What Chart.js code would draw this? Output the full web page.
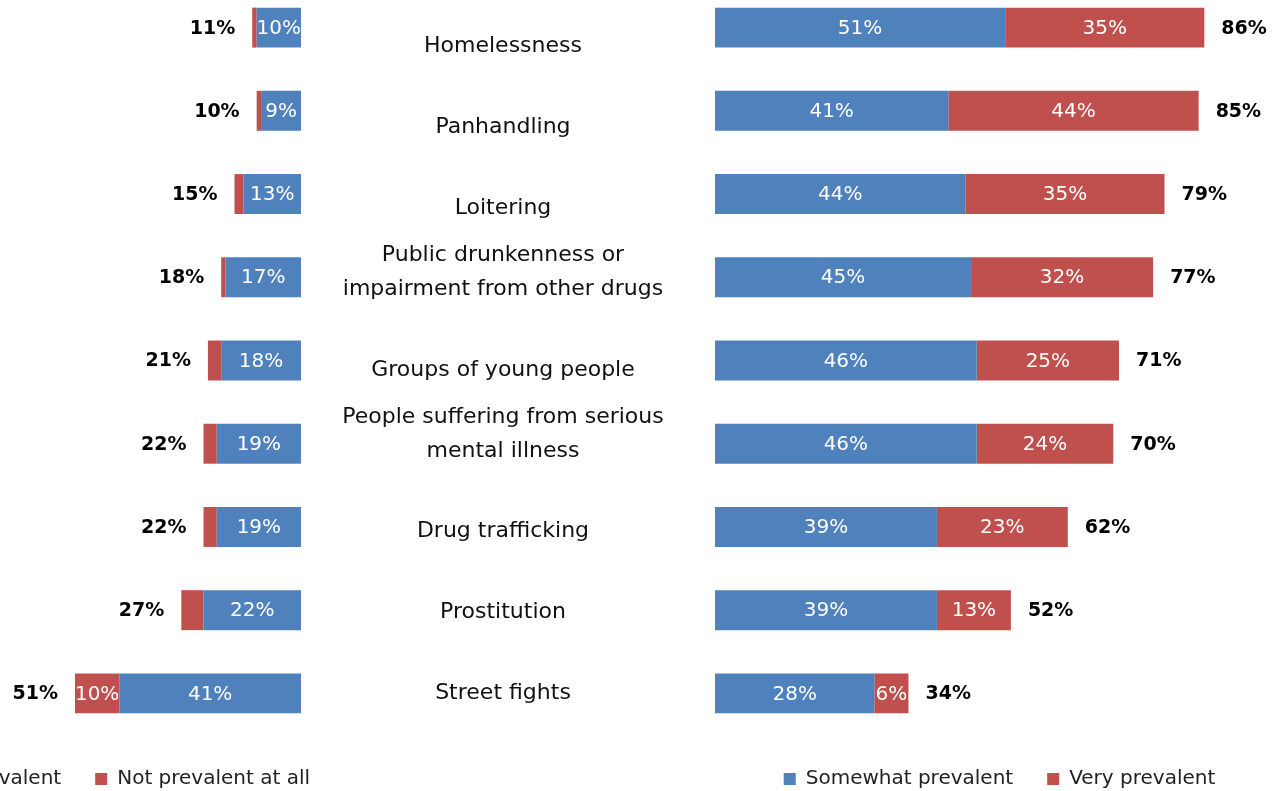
<!DOCTYPE html>
<html>
<head>
<meta charset="utf-8">
<script src="https://cdn.jsdelivr.net/npm/chart.js@4.4.1/dist/chart.umd.min.js"></script>
<style>
  html, body { margin: 0; padding: 0; background: #fff; }
  #wrap { position: relative; width: 1284px; height: 791px; overflow: hidden; }
  #wrap > div { position: absolute; }
</style>
</head>
<body>
<div id="wrap">
  <div style="left:-198px; top:-14px; width:558px; height:813px;"><canvas id="leftChart"></canvas></div>
  <div style="left:320px; top:0; width:366px; height:734px;"><canvas id="midChart"></canvas></div>
  <div style="left:705px; top:-14px; width:579px; height:813px;"><canvas id="rightChart"></canvas></div>
</div>
<script>
const categories = [
    'Homelessness',
    'Panhandling',
    'Loitering',
    ['Public drunkenness or', 'impairment from other drugs'],
    'Groups of young people',
    ['People suffering from serious', 'mental illness'],
    'Drug trafficking',
    'Prostitution',
    'Street fights'
];
const notVeryPrevalent = [10, 9, 13, 17, 18, 19, 19, 22, 41];
const notPrevalentAtAll = [1, 1, 2, 1, 3, 3, 3, 5, 10];
const somewhatPrevalent = [51, 41, 44, 45, 46, 46, 39, 39, 28];
const veryPrevalent = [35, 44, 35, 32, 25, 24, 23, 13, 6];

const BLUE = '#4F81BD';
const RED = '#C0504D';
const FONT = '"DejaVu Sans", sans-serif';

Chart.defaults.font.family = FONT;
Chart.defaults.animation = false;

// white % inside each segment, bold total past the end of the stack
const barLabels = {
    id: 'barLabels',
    afterDatasetsDraw(chart, args, opts) {
        const ctx = chart.ctx;
        const sets = chart.data.datasets;
        ctx.save();
        ctx.textBaseline = 'middle';

        sets.forEach((ds, di) => {
            chart.getDatasetMeta(di).data.forEach((bar, i) => {
                const v = ds.data[i];
                if (v < 6) return;
                ctx.font = '20px ' + FONT;
                ctx.fillStyle = '#fff';
                ctx.textAlign = 'center';
                ctx.fillText(v + '%', (bar.x + bar.base) / 2, bar.y + 1);
            });
        });

        chart.getDatasetMeta(sets.length - 1).data.forEach((bar, i) => {
            const total = sets.reduce((sum, ds) => sum + ds.data[i], 0);
            ctx.font = 'bold 19px ' + FONT;
            ctx.fillStyle = '#000';
            if (opts.side === 'left') {
                ctx.textAlign = 'right';
                ctx.fillText(total + '%', Math.min(bar.x, bar.base) - 17, bar.y + 1);
            } else {
                ctx.textAlign = 'left';
                ctx.fillText(total + '%', Math.max(bar.x, bar.base) + 17, bar.y + 1);
            }
        });
        ctx.restore();
    }
};

// category names in the middle column, last line sits on the slot
const categoryText = {
    id: 'categoryText',
    afterDraw(chart) {
        const ctx = chart.ctx;
        const yScale = chart.scales.y;
        const cx = (chart.chartArea.left + chart.chartArea.right) / 2;
        ctx.save();
        ctx.font = '22px ' + FONT;
        ctx.fillStyle = '#111';
        ctx.textAlign = 'center';
        ctx.textBaseline = 'middle';
        chart.data.labels.forEach((label, i) => {
            const lines = Array.isArray(label) ? label : [label];
            const y = yScale.getPixelForValue(i);
            lines.forEach((line, k) => {
                ctx.fillText(line, cx, y - (lines.length - 1 - k) * 34);
            });
        });
        ctx.restore();
    }
};

function sideChart(id, sets, side, xMin, xMax, padding) {
    return new Chart(document.getElementById(id), {
        type: 'bar',
        data: {
            labels: categories,
            datasets: sets.map(s => ({
                label: s.label,
                data: s.data,
                backgroundColor: s.color,
                borderWidth: 0,
                categoryPercentage: 1,
                barPercentage: 0.48
            }))
        },
        options: {
            indexAxis: 'y',
            responsive: true,
            maintainAspectRatio: false,
            layout: { padding: padding },
            scales: {
                x: { display: false, stacked: true, min: xMin, max: xMax, reverse: side === 'left' },
                y: { display: false, stacked: true }
            },
            plugins: {
                legend: {
                    position: 'bottom',
                    labels: {
                        boxWidth: 12,
                        boxHeight: 12,
                        padding: 34,
                        color: '#222',
                        font: { size: 20 }
                    }
                },
                tooltip: { enabled: false },
                barLabels: { side: side }
            }
        },
        plugins: [barLabels]
    });
}

document.addEventListener('DOMContentLoaded', function () {
    // reversed axis; the negative minimum leaves room on the right for the legend
    sideChart('leftChart', [
        { label: 'Not very prevalent', data: notVeryPrevalent, color: BLUE },
        { label: 'Not prevalent at all', data: notPrevalentAtAll, color: RED }
    ], 'left', -13.32, 112.6, 0);

    sideChart('rightChart', [
        { label: 'Somewhat prevalent', data: somewhatPrevalent, color: BLUE },
        { label: 'Very prevalent', data: veryPrevalent, color: RED }
    ], 'right', 0, 100, { left: 10 });

    new Chart(document.getElementById('midChart'), {
        type: 'bar',
        data: { labels: categories, datasets: [] },
        options: {
            responsive: true,
            maintainAspectRatio: false,
            layout: { padding: { top: 6 } },
            scales: {
                x: { display: false },
                y: { type: 'category', display: false, offset: true }
            },
            plugins: { legend: { display: false }, tooltip: { enabled: false } }
        },
        plugins: [categoryText]
    });
});
</script>
</body>
</html>
